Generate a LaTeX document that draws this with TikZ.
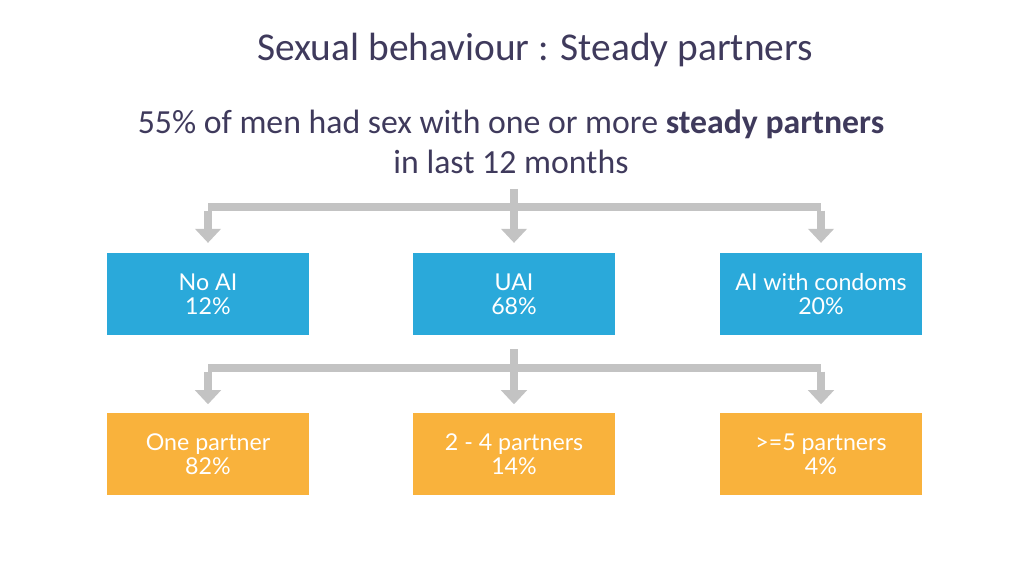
\documentclass[tikz,border=0pt]{standalone}
\usepackage{fontspec}
\setmainfont{Carlito}
\newfontfamily\boxfont{Lato}
\usetikzlibrary{positioning,arrows.meta}
\definecolor{titlecol}{HTML}{3F3A5C}
\definecolor{bluebox}{HTML}{2AA9DA}
\definecolor{orangebox}{HTML}{F9B23C}
\definecolor{linkgray}{HTML}{C3C3C3}
\tikzset{
  catbox/.style={minimum width=5.05cm, minimum height=2.05cm, inner sep=0pt,
    text=white, align=center, font=\boxfont\fontsize{16.5}{17}\selectfont},
  link/.style={draw=linkgray, line width=5pt},
  linkarrow/.style={link, -{Triangle[width=18pt,length=10pt]}}
}
\begin{document}
\begin{tikzpicture}[x=0.025cm, y=-0.025cm]
  \useasboundingbox (0,0) rectangle (1024,576);
  \node (T) [text=titlecol, font=\fontsize{28}{32}\selectfont] at (535,50) {Sexual behaviour : Steady partners};
  \node (S) [text=titlecol, align=center, font=\fontsize{24}{28.5}\selectfont] at (511,142)
    {55\% of men had sex with one or more \textbf{steady partners}\\ in last 12 months};
  % first row
  \node (A1) [catbox, fill=bluebox] at (208,294) {No AI\\12\%};
  \node (A2) [catbox, fill=bluebox] at (514,294) {UAI\\68\%};
  \node (A3) [catbox, fill=bluebox] at (821,294) {AI with condoms\\20\%};
  % second row
  \node (B1) [catbox, fill=orangebox] at (208,454) {One partner\\82\%};
  \node (B2) [catbox, fill=orangebox] at (514,454) {2 - 4 partners\\14\%};
  \node (B3) [catbox, fill=orangebox] at (821,454) {>=5 partners\\4\%};
  % connectors
  \coordinate (top) at (514,189);
  \coordinate (barL) at (208,207);
  \coordinate (barR) at (821,207);
  \draw[link] (barL) -- (barR);
  \draw[linkarrow] (top) -- ([yshift=7]A2.north);
  \draw[linkarrow] ([yshift=-2.5]barL) -- ([yshift=7]A1.north);
  \draw[linkarrow] ([yshift=-2.5]barR) -- ([yshift=7]A3.north);
  \coordinate (barL2) at (208,368);
  \coordinate (barR2) at (821,368);
  \draw[link] (barL2) -- (barR2);
  \draw[linkarrow] ([yshift=-10]A2.south) -- ([yshift=6]B2.north);
  \draw[linkarrow] ([yshift=-2.5]barL2) -- ([yshift=6]B1.north);
  \draw[linkarrow] ([yshift=-2.5]barR2) -- ([yshift=6]B3.north);
\end{tikzpicture}
\end{document}
